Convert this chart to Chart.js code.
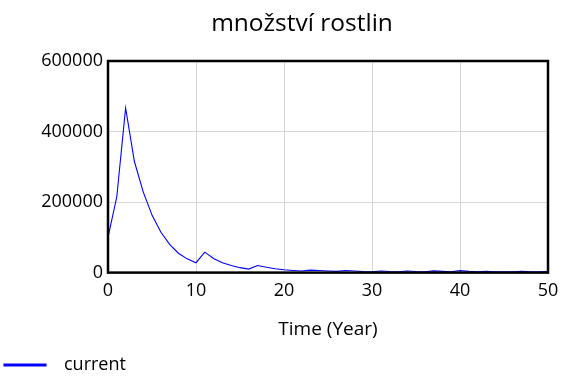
<!DOCTYPE html>
<html>
<head>
<meta charset="utf-8">
<script src="https://cdn.jsdelivr.net/npm/chart.js@4"></script>
<style>
    html, body { margin: 0; padding: 0; background: #fff; }
    #wrap { width: 576px; height: 384px; }
</style>
</head>
<body>
<div id="wrap"><canvas id="chart" width="576" height="384"></canvas></div>
<script>
// values
const years = [];
for (let i = 0; i <= 50; i++) years.push(i);
const current = [100000, 215000, 467000, 315000, 229000, 163000, 115000, 80000, 55000, 39000, 28000,
    58000, 40000, 28000, 20000, 14000, 10000, 20000, 15000, 11000, 8000,
    6000, 4500, 7000, 6000, 4500, 3500, 6000, 4500, 3000, 2500,
    4500, 3000, 2500, 4500, 3000, 2500, 5000, 3500, 2500, 5500,
    3500, 2500, 4000, 2500, 2000, 2500, 4000, 2500, 2000, 3000];
const xTicks = [0, 10, 20, 30, 40, 50];
const yTicks = [0, 200000, 400000, 600000];

// black frame round the plot area, title nudged towards the plot centre
const frame = {
    id: 'frame',
    afterLayout(chart) {
        if (chart.titleBlock) chart.titleBlock.left = 56;
    },
    afterDraw(chart) {
        const a = chart.chartArea;
        const ctx = chart.ctx;
        ctx.save();
        ctx.strokeStyle = '#000';
        ctx.lineWidth = 2.5;
        ctx.strokeRect(a.left, a.top, a.right - a.left, a.bottom - a.top);
        ctx.restore();
    }
};

const tickFont = { family: 'Open Sans', size: 18 };

const ctx = document.getElementById('chart').getContext('2d');
new Chart(ctx, {
    type: 'line',
    data: {
        datasets: [{
            label: 'current',
            data: years.map((x, i) => ({ x: x, y: current[i] })),
            borderColor: '#0000ff',
            backgroundColor: '#0000ff',
            borderWidth: 1.1,
            pointRadius: 0,
            tension: 0
        }]
    },
    options: {
        responsive: false,
        animation: false,
        layout: { padding: { left: 0, right: 28, top: 0, bottom: 0 } },
        plugins: {
            title: {
                display: true,
                text: 'množství rostlin',
                color: '#000',
                font: { family: 'Open Sans', size: 24.5, weight: 'normal' },
                padding: { top: 9, bottom: 22.6 }
            },
            legend: {
                position: 'bottom',
                align: 'start',
                labels: {
                    color: '#000',
                    boxWidth: 42,
                    boxHeight: 2,
                    padding: 4,
                    font: { family: 'Open Sans', size: 18 },
                    generateLabels: chart => {
                        const items = Chart.defaults.plugins.legend.labels.generateLabels(chart);
                        items.forEach(it => { it.text = '\u2002' + it.text; });
                        return items;
                    }
                }
            },
            tooltip: { enabled: false }
        },
        scales: {
            x: {
                type: 'linear',
                min: 0,
                max: 50,
                afterBuildTicks: axis => { axis.ticks = xTicks.map(v => ({ value: v })); },
                ticks: { color: '#000', font: tickFont, padding: 7 },
                grid: { color: '#d6d6d6', lineWidth: 1, drawTicks: false },
                border: { display: false },
                title: {
                    display: true,
                    text: 'Time (Year)',
                    color: '#000',
                    font: { family: 'Open Sans', size: 19 },
                    padding: { top: 10, bottom: 11 }
                }
            },
            y: {
                min: 0,
                max: 600000,
                afterBuildTicks: axis => { axis.ticks = yTicks.map(v => ({ value: v })); },
                afterFit: axis => { axis.width = 108; },
                ticks: {
                    color: '#000',
                    font: tickFont,
                    padding: 5,
                    callback: v => String(v)
                },
                grid: { color: '#d6d6d6', lineWidth: 1, drawTicks: false },
                border: { display: false }
            }
        }
    },
    plugins: [frame]
});
</script>
</body>
</html>
